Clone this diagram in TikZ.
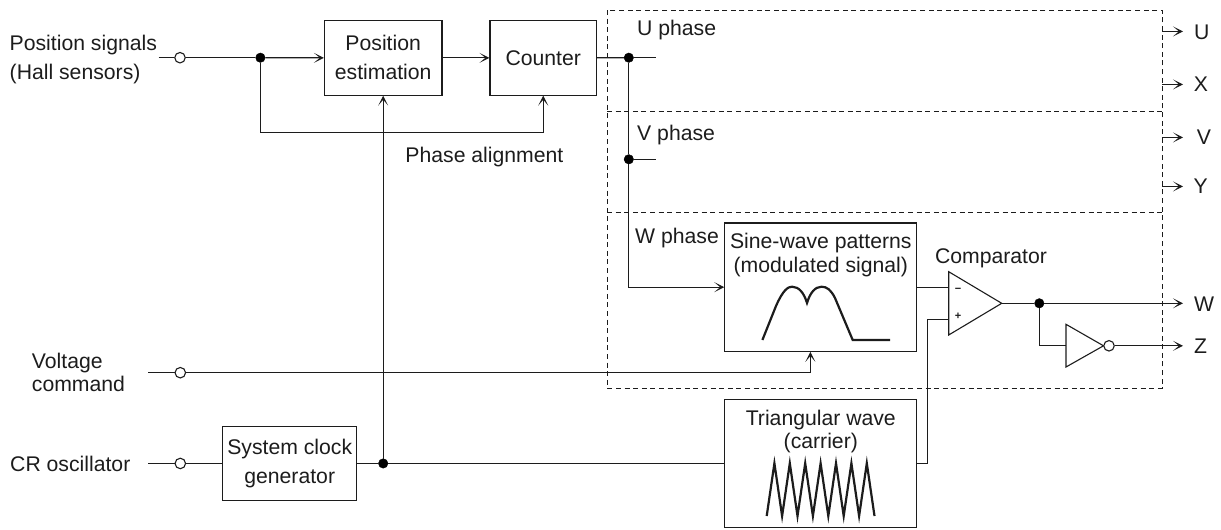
\documentclass[tikz,border=0pt]{standalone}
\usepackage{fontspec}
\setmainfont{Liberation Sans}
\usetikzlibrary{arrows.meta}
\definecolor{ink}{HTML}{1C1C1C}
\tikzset{
  x=1pt,y=-1pt,
  wire/.style={line width=1.25pt,draw=ink},
  arr/.style={wire,-{Stealth[length=10pt,width=10pt,inset=6pt]}},
  boxn/.style={draw=ink,line width=1.15pt,rectangle,inner sep=0pt,align=center,font=\fontsize{21.2}{29}\selectfont,text=ink},
  lab/.style={inner sep=0pt,text=ink,align=left,font=\fontsize{21.2}{23.5}\selectfont},
  labw/.style={lab,anchor=base west},
  labc/.style={lab,anchor=base},
  jdot/.style={circle,fill=black,draw=black,inner sep=0pt,minimum size=9.5pt},
  term/.style={circle,fill=white,draw=ink,line width=1.1pt,inner sep=0pt,minimum size=10.5pt},
  dashb/.style={draw=ink,line width=1pt,dash pattern=on 5pt off 3.6pt},
  wavep/.style={draw=ink,line width=2.2pt,line join=miter},
}
\begin{document}
\begin{tikzpicture}
\useasboundingbox (0,0) rectangle (1221,530);
% dashed frames
\draw[dashb] (607,10) rectangle (1162,388);
\draw[dashb] (607,111) -- (1162,111);
\draw[dashb] (607,212.5) -- (1162,212.5);
% blocks
\node[boxn,minimum width=117.5pt,minimum height=74.5pt] (pos) at (383.2,57.85) {Position\\estimation};
\node[boxn,minimum width=106.5pt,minimum height=74.5pt] (cnt) at (543.25,57.85) {Counter};
\node[boxn,minimum width=134pt,minimum height=74.7pt] (clk) at (289.7,463.45) {System clock\\generator};
\node[boxn,minimum width=192pt,minimum height=128.4pt] (sin) at (820.8,287.15) {};
\node[boxn,minimum width=192pt,minimum height=128pt] (tri) at (820.8,463.45) {};
% texts
\node[labw] (tpos) at (9.5,50.5) {Position signals};
\node[labw] (thall) at (9.5,79.5) {(Hall sensors)};
\node[labw] (tvolt) at (31.7,368) {Voltage};
\node[labw] (tcmd) at (31.7,391.5) {command};
\node[labw] (tcr) at (10,471.5) {CR oscillator};
\node[labc] (tpa) at (484.4,162.5) {Phase alignment};
\node[labw] (tu) at (637,35.5) {U phase};
\node[labw] (tv) at (637,140.5) {V phase};
\node[labw] (tw) at (635,243) {W phase};
\node[labc] (ts1) at (820.8,248) {Sine-wave patterns};
\node[labc] (ts2) at (820.8,272.5) {(modulated signal)};
\node[labc] (tt1) at (820.8,425.5) {Triangular wave};
\node[labc] (tt2) at (820.8,448) {(carrier)};
\node[labc] (tcomp) at (991,263.5) {Comparator};
\node[labc] (lU) at (1201.7,39) {U};
\node[labc] (lX) at (1201,91.8) {X};
\node[labc] (lV) at (1204,144.8) {V};
\node[labc] (lY) at (1200.7,193.5) {Y};
\node[labc] (lW) at (1204,311) {W};
\node[labc] (lZ) at (1200.5,353.5) {Z};
% terminals and junctions
\coordinate (s1) at (158.7,57.7);
\node[term] (t1) at (180,57.7) {};
\node[jdot] (j1) at (260.4,57.7) {};
\node[jdot] (j2) at (628.8,57.7) {};
\node[jdot] (j3) at (628.8,159.3) {};
\coordinate (u1) at (655.7,57.7);
\coordinate (v1) at (655.7,159.3);
\coordinate (fb) at (260.4,132.7);
\coordinate (s2) at (148,372.7);
\node[term] (t2) at (180.3,372.7) {};
\coordinate (s3) at (148,463.45);
\node[term] (t3) at (180.3,463.45) {};
\node[jdot] (j4) at (383.2,463.45) {};
\node[jdot] (j5) at (1039.3,303.3) {};
\coordinate (vc) at (810.4,372.7);
% connectors
\draw[wire] (s1) -- (t1);
\draw[wire] (t1) -- (j1);
\draw[arr] (j1) -- (pos.west);
\draw[arr] (pos.east) -- (cnt.west);
\draw[wire] (cnt.east) -- (j2);
\draw[wire] (j2) -- (u1);
\draw[wire] (j3) -- (v1);
\draw[wire] (j2) -- (j3);
\draw[arr] (j3) |- (sin.west);
\draw[arr] (j1) |- (fb) -| (cnt.south);
\draw[wire] (s2) -- (t2);
\draw[arr] (t2) -- (vc) -- (vc |- sin.south);
\draw[wire] (s3) -- (t3);
\draw[wire] (t3) -- (clk.west);
\draw[wire] (clk.east) -- (j4);
\draw[wire] (j4) -- (tri.west);
\draw[arr] (j4) -- (pos.south);
% comparator
\coordinate (cmpA) at (948.7,271.7);
\coordinate (cmpB) at (948.7,335);
\coordinate (cmpC) at (1001.7,303.3);
\coordinate (cmpM) at (948.7,287.4);
\coordinate (cmpP) at (948.7,319.4);
\draw[wire,line width=1.1pt,line join=miter] (cmpA) -- (cmpC) -- (cmpB) -- cycle;
\node[inner sep=0pt,text=ink,font=\bfseries\fontsize{11}{11}\selectfont] (cm) at (958,290) {\textminus};
\node[inner sep=0pt,text=ink,font=\bfseries\fontsize{11}{11}\selectfont] (cp) at (958,316.7) {+};
\draw[wire] (sin.east |- cmpM) -- (cmpM);
\draw[wire] (tri.east) -| (927.4,319.4) -- (cmpP);
% inverter
\coordinate (invA) at (1066,324.3);
\coordinate (invB) at (1066,367);
\coordinate (invC) at (1103.5,345.8);
\coordinate (invI) at (1066,345.8);
\coordinate (outz) at (1183,345.8);
\coordinate (outw) at (1183,303.3);
\draw[wire,line width=1.1pt,line join=miter] (invA) -- (invC) -- (invB) -- cycle;
\node[term] (bub) at (1109,345.8) {};
\draw[wire] (cmpC) -- (j5);
\draw[arr] (j5) -- (outw);
\draw[wire] (j5) |- (invI);
\draw[arr] (bub) -- (outz);
% phase outputs
\foreach \n/\y in {au/31.4,ax/84.4,av/137.4,ay/186.4}{
  \coordinate (\n a) at (1162,\y);
  \coordinate (\n b) at (1183,\y);
  \draw[arr] (\n a) -- (\n b);
}
% waveforms
\draw[wavep] (762.4,340) -- (776,306) .. controls (783,290) and (788,286.7) .. (792,286.7)
  .. controls (799,286.7) and (804,293) .. (807,303)
  .. controls (810,293) and (815,286.7) .. (821.5,286.7)
  .. controls (827,286.7) and (831,290) .. (835,298) -- (852.7,340) -- (890,340);
\draw[wavep,line join=miter] (766.7,516)
  \foreach \k in {0,...,6}{ -- ({774.4+15.4*\k},463.3) -- ({782.1+15.4*\k},516) };
\end{tikzpicture}
\end{document}
